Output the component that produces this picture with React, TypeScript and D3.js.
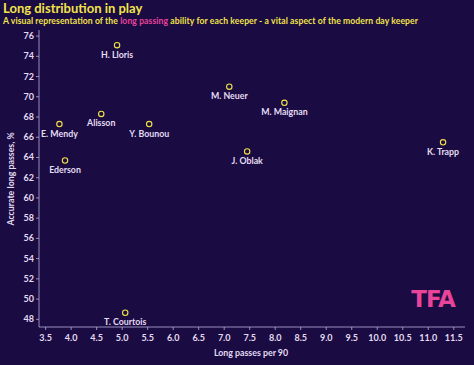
import React from "react";
import * as d3 from "d3";

const keepers = ["H. Lloris", "M. Neuer", "M. Maignan", "Alisson", "E. Mendy", "Y. Bounou", "Ederson", "J. Oblak", "K. Trapp", "T. Courtois"];
const longPassesPer90 = [4.9, 7.1, 8.18, 4.59, 3.77, 5.53, 3.88, 7.45, 11.29, 5.06];
const accuracyPct = [75.1, 71.0, 69.4, 68.3, 67.3, 67.3, 63.7, 64.6, 65.5, 48.65];
const xTicks = [3.5, 4, 4.5, 5, 5.5, 6, 6.5, 7, 7.5, 8, 8.5, 9, 9.5, 10, 10.5, 11, 11.5];
const yTicks = [48, 50, 52, 54, 56, 58, 60, 62, 64, 66, 68, 70, 72, 74, 76];

const W = 474, H = 365;
const BG = "#1a0b42";
const YELLOW = "#f2e34a";
const PINK = "#e8449a";
const TEXT = "#e4dcf2";
const AXIS = "#b9aedb";
const FONT = "Lato, 'Open Sans', sans-serif";

export default function App() {
  const x = d3.scaleLinear().domain([3.37, 11.72]).range([39, 465]);
  const y = d3.scaleLinear().domain([47.24, 76.6]).range([327, 30]);
  return (
    <svg width={W} height={H} style={{ position: "absolute", left: 0, top: 0, display: "block" }} fontFamily={FONT}>
      <rect width={W} height={H} fill={BG} />
      <text x={3} y={13} fill={YELLOW} fontSize={13} fontWeight={700}>Long distribution in play</text>
      <text x={3} y={23.5} fill={YELLOW} fontSize={8.6} fontWeight={700} textLength={415} lengthAdjust="spacing">
        A visual representation of the <tspan fill={PINK}>long passing</tspan> ability for each keeper -  a vital aspect of the modern day keeper
      </text>
      <line x1={39} x2={39} y1={y.range()[1]} y2={327} stroke={AXIS} strokeWidth={0.8} />
      <line x1={39} x2={465} y1={327} y2={327} stroke={AXIS} strokeWidth={0.8} />
      {yTicks.map((t) => (
        <g key={"y" + t}>
          <line x1={36} x2={39} y1={y(t)} y2={y(t)} stroke={AXIS} strokeWidth={0.8} />
          <text x={34} y={y(t) + 3} textAnchor="end" fill={TEXT} fontSize={9} fontWeight={700}>{t}</text>
        </g>
      ))}
      {xTicks.map((t) => (
        <g key={"x" + t}>
          <line x1={x(t)} x2={x(t)} y1={327} y2={330} stroke={AXIS} strokeWidth={0.8} />
          <text x={x(t)} y={340.5} textAnchor="middle" fill={TEXT} fontSize={9} fontWeight={700}>{t.toFixed(1)}</text>
        </g>
      ))}
      <text x={251} y={356} textAnchor="middle" fill={TEXT} fontSize={8.8} fontWeight={700}>Long passes per 90</text>
      <text transform={`translate(14,179) rotate(-90)`} textAnchor="middle" fill={TEXT} fontSize={8.8} fontWeight={700}>Accurate long passes, %</text>
      {keepers.map((k, i) => (
        <g key={k}>
          <circle cx={x(longPassesPer90[i])} cy={y(accuracyPct[i])} r={2.7} fill="none" stroke={YELLOW} strokeWidth={1.1} />
          <text x={x(longPassesPer90[i])} y={y(accuracyPct[i]) + 12.5} textAnchor="middle" fill={TEXT} fontSize={8.8} fontWeight={700}>{k}</text>
        </g>
      ))}
      <text x={433} y={306.5} textAnchor="middle" fill={PINK} fontSize={23} fontWeight={900} fontFamily="'DejaVu Sans', sans-serif" letterSpacing={-1}>TFA</text>
    </svg>
  );
}
